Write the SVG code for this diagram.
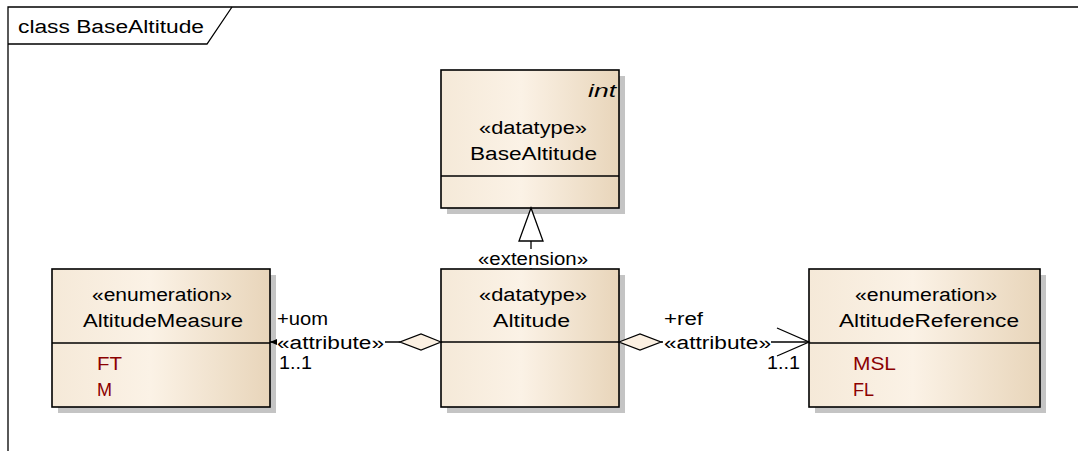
<svg xmlns="http://www.w3.org/2000/svg" width="1078" height="451" viewBox="0 0 1078 451">
<defs>
<linearGradient id="g" x1="0" y1="0" x2="1" y2="0">
<stop offset="0" stop-color="#F5E9D8"/>
<stop offset="0.45" stop-color="#FBF2E6"/>
<stop offset="1" stop-color="#E8D5BA"/>
</linearGradient>
<style>
text{font-family:"Liberation Sans",Arial,sans-serif;font-size:18px;fill:#000}
.lit{fill:#8B0000}
.box{fill:url(#g);stroke:#000;stroke-width:1.6}
.sh{fill:#C4C4C4}
.ln{stroke:#000;stroke-width:1.3;fill:none}
</style>
</defs>
<rect width="1078" height="451" fill="#fff"/>
<g id="frame">
<path d="M8,451 V7 H1078" class="ln" stroke-width="1"/>
<path d="M8,44 H207 L232,7" class="ln" stroke-width="1"/>
<text x="18" y="33" textLength="186" lengthAdjust="spacingAndGlyphs">class BaseAltitude</text>
</g>
<g id="node-BaseAltitude">
<rect class="sh" x="447" y="76" width="178" height="138"/>
<rect class="box" x="441" y="70" width="178" height="138"/>
<line class="ln" x1="441" y1="176" x2="619" y2="176"/>
<text x="616" y="97" text-anchor="end" font-style="italic" textLength="28" lengthAdjust="spacingAndGlyphs">int</text>
<text x="479" y="134" textLength="108" lengthAdjust="spacingAndGlyphs">«datatype»</text>
<text x="470" y="160" textLength="127" lengthAdjust="spacingAndGlyphs">BaseAltitude</text>
</g>
<g id="node-Altitude">
<rect class="sh" x="447" y="275" width="178" height="138"/>
<rect class="box" x="441" y="269" width="178" height="138"/>
<line class="ln" x1="441" y1="342" x2="619" y2="342"/>
<text x="479" y="301" textLength="108" lengthAdjust="spacingAndGlyphs">«datatype»</text>
<text x="493" y="327" textLength="77" lengthAdjust="spacingAndGlyphs">Altitude</text>
</g>
<g id="node-AltitudeMeasure">
<rect class="sh" x="58" y="275" width="218" height="138"/>
<rect class="box" x="52" y="269" width="218" height="138"/>
<line class="ln" x1="52" y1="343" x2="270" y2="343"/>
<text x="92" y="301" textLength="140" lengthAdjust="spacingAndGlyphs">«enumeration»</text>
<text x="83" y="327" textLength="160" lengthAdjust="spacingAndGlyphs">AltitudeMeasure</text>
<text class="lit" x="97" y="370" textLength="25" lengthAdjust="spacingAndGlyphs">FT</text>
<text class="lit" x="97" y="396">M</text>
</g>
<g id="node-AltitudeReference">
<rect class="sh" x="815" y="275" width="231" height="138"/>
<rect class="box" x="809" y="269" width="231" height="138"/>
<line class="ln" x1="809" y1="343" x2="1040" y2="343"/>
<text x="855" y="301" textLength="142" lengthAdjust="spacingAndGlyphs">«enumeration»</text>
<text x="839" y="327" textLength="180" lengthAdjust="spacingAndGlyphs">AltitudeReference</text>
<text class="lit" x="853" y="370" textLength="43" lengthAdjust="spacingAndGlyphs">MSL</text>
<text class="lit" x="853" y="396">FL</text>
</g>
<g id="connectors">
<line class="ln" x1="531" y1="240" x2="531" y2="269"/>
<polygon points="531,208 519,241 543,241" fill="#fff" stroke="#000" stroke-width="1.3"/>
<rect x="476" y="249" width="114" height="19" fill="#fff"/>
<text x="478" y="265" textLength="110" lengthAdjust="spacingAndGlyphs">«extension»</text>
<line class="ln" x1="270" y1="342" x2="400" y2="342"/>
<polygon points="441,342 421,334 400,342 421,350" fill="#FBF0E2" stroke="#000" stroke-width="1.3"/>
<polygon points="270,342 277,339 277,345" fill="#000"/>
<rect x="277" y="333" width="108" height="20" fill="#fff"/>
<text x="277" y="325" textLength="51" lengthAdjust="spacingAndGlyphs">+uom</text>
<text x="277" y="349" textLength="107" lengthAdjust="spacingAndGlyphs">«attribute»</text>
<text x="279" y="369" textLength="33" lengthAdjust="spacingAndGlyphs">1..1</text>
<line class="ln" x1="661" y1="342" x2="809" y2="342"/>
<polygon points="619,342 640,334 661,342 640,350" fill="#FBF0E2" stroke="#000" stroke-width="1.3"/>
<rect x="663" y="333" width="108" height="20" fill="#fff"/>
<polyline class="ln" points="777,328 809,342 777,356"/>
<text x="664" y="325" textLength="39" lengthAdjust="spacingAndGlyphs">+ref</text>
<text x="664" y="349" textLength="107" lengthAdjust="spacingAndGlyphs">«attribute»</text>
<text x="767" y="369" textLength="33" lengthAdjust="spacingAndGlyphs">1..1</text>
</g>
</svg>
